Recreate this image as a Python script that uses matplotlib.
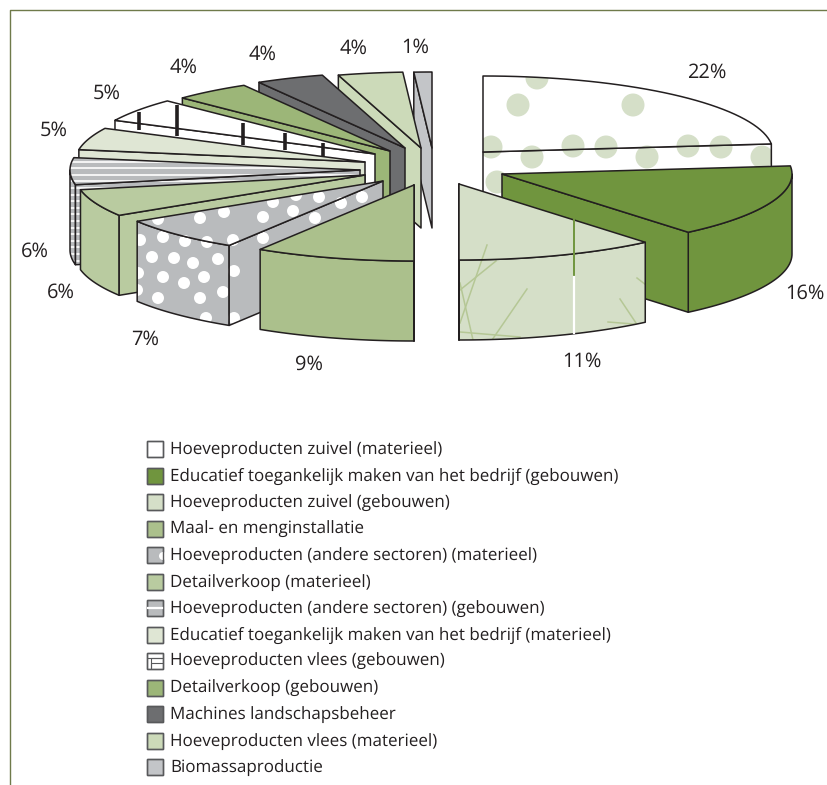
import numpy as np
import matplotlib
matplotlib.use("Agg")
import matplotlib.pyplot as plt
from matplotlib.patches import Polygon, Rectangle, Circle

plt.rcParams["font.family"] = ["Open Sans", "DejaVu Sans"]
plt.rcParams["text.hinting"] = "no_hinting"
plt.rcParams["text.hinting_factor"] = 1

names = [
    "Hoeveproducten zuivel (materieel)",
    "Educatief toegankelijk maken van het bedrijf (gebouwen)",
    "Hoeveproducten zuivel (gebouwen)",
    "Maal- en menginstallatie",
    "Hoeveproducten (andere sectoren) (materieel)",
    "Detailverkoop (materieel)",
    "Hoeveproducten (andere sectoren) (gebouwen)",
    "Educatief toegankelijk maken van het bedrijf (materieel)",
    "Hoeveproducten vlees (gebouwen)",
    "Detailverkoop (gebouwen)",
    "Machines landschapsbeheer",
    "Hoeveproducten vlees (materieel)",
    "Biomassaproductie",
]
# printed labels, and the slice sizes
labels = ["22%", "16%", "11%", "9%", "7%", "6%", "6%", "5%", "5%", "4%", "4%", "4%", "1%"]
shares = [23.3, 15.6, 11.1, 8.9, 7.2, 5.8, 5.7, 4.7, 5.0, 4.3, 3.8, 3.6, 1.0]

colors = ["#ffffff", "#70953e", "#d5dfc8", "#abc08c", "#b9bbbd", "#b9cba0", "#b9bbbd",
          "#dfe6d4", "#ffffff", "#9cb678", "#6d6e70", "#ccdab9", "#c3c5c8"]

# where each exploded slice has its tip, in pixels
tips = [(483, 152), (502, 174), (459, 184), (414, 185), (383, 181), (365, 175), (360, 170),
        (365, 162), (375, 154), (390, 151), (405, 148), (421, 148), (432, 148)]
label_pos = [(707, 72), (805, 293), (582, 361), (309, 364), (145, 339), (61, 292), (35, 251),
             (54, 130), (107, 93), (184, 67), (263, 54), (354, 48), (415, 47)]

RX, RY, DEPTH = 290, 76, 80
EDGE = "#231f20"

# fill patterns
green_dots = [(518, 105), (537, 78), (491, 147), (532, 157), (573, 146), (497, 182)]
white_dots = [(140, 240), (163, 237), (185, 241), (207, 242), (152, 257), (174, 258), (193, 263),
              (218, 259), (138, 273), (163, 277), (184, 283), (204, 277), (137, 290), (158, 298),
              (200, 298), (223, 292), (234, 271), (263, 238), (233, 240), (200, 218), (224, 212),
              (263, 217), (293, 211), (315, 218), (319, 197), (341, 203), (362, 197), (273, 202),
              (296, 195), (158, 219), (206, 318), (234, 318)]
straws = [(487, 245, 460, 323), (496, 261, 460, 290), (460, 283, 473, 340), (527, 289, 492, 340),
          (460, 332, 520, 337), (620, 299, 636, 323), (608, 322, 646, 325), (637, 278, 646, 285)]
bars = [(139, 112, 130), (177, 105, 136), (243, 123, 145), (285, 133, 150), (323, 143, 157)]


def rim(tip, a0, a1, drop=0):
    t = np.radians(np.linspace(a0, a1, 40))
    return np.column_stack([tip[0] + RX * np.sin(t), tip[1] + drop - RY * np.cos(t)])


def pattern(ax, i, clip):
    art = []
    if i == 0:
        for k in range(-1, 4):
            art += [Circle((x + 115 * k, y), 11.5, fc="#d5dfc8", ec="none") for x, y in green_dots]
    elif i == 2:
        art += ax.plot(np.array(straws)[:, [0, 2]].T, np.array(straws)[:, [1, 3]].T,
                       color="#b5c795", lw=1.1)
    elif i == 4:
        art += [Circle(p, 6, fc="white", ec="none") for p in white_dots]
    elif i == 6:
        for y in np.arange(155, 270, 6.6):
            art += ax.plot([60, 380], [y, y], color="white", lw=1.2)
    for a in art:
        if isinstance(a, Circle):
            ax.add_patch(a)
        a.set_clip_path(clip)
        a.set_zorder(ax.zorder_now + 0.1)


def face(ax, pts, col, i):
    ax.zorder_now += 1
    body = Polygon(pts, closed=True, fc=col, ec="none", zorder=ax.zorder_now)
    ax.add_patch(body)
    pattern(ax, i, body)
    ax.add_patch(Polygon(pts, closed=True, fc="none", ec=EDGE, lw=1.1, joinstyle="round",
                         zorder=ax.zorder_now + 0.2))


def draw_slice(ax, i, a0, a1):
    tip, col = tips[i], colors[i]
    # outer wall, only for the part of the rim that faces us
    w0, w1 = max(a0, 90), min(a1, 270)
    if w1 > w0:
        face(ax, np.vstack([rim(tip, w0, w1), rim(tip, w0, w1, DEPTH)[::-1]]), col, i)
    # cut face: trailing edge on the right half, leading edge on the left half
    a = a1 if a1 <= 180 else a0
    p = rim(tip, a, a)[0]
    face(ax, [tip, p, (p[0], p[1] + DEPTH), (tip[0], tip[1] + DEPTH)], col, i)
    # top
    face(ax, np.vstack([[tip], rim(tip, a0, a1)]), col, i)
    if i == 8:
        for x, y0, y1 in bars:
            ax.plot([x, x], [y0, y1], color=EDGE, lw=2.6, solid_capstyle="butt",
                    zorder=ax.zorder_now + 0.3)


fig = plt.figure(figsize=(8.28, 7.85), dpi=100)
ax = fig.add_axes([0, 0, 1, 1])
ax.set_xlim(0, 828)
ax.set_ylim(785, 0)
ax.axis("off")
ax.zorder_now = 1

# page frame
ax.plot([10, 10, 828], [785, 10, 10], color="#6f7a4a", lw=1.0)

edges = np.cumsum([0] + shares) / sum(shares) * 360
for i in [0, 1, 2] + list(range(12, 2, -1)):
    draw_slice(ax, i, edges[i], edges[i + 1])

# stray line through the 11% slice
ax.plot([574, 574], [220, 277], color="#70953e", lw=1.4, zorder=ax.zorder_now + 1)
ax.plot([574, 574], [277, 333], color="white", lw=1.6, zorder=ax.zorder_now + 1)

for s, (x, y) in zip(labels, label_pos):
    ax.text(x, y + 1, s, ha="center", va="center", fontsize=14.5, color=EDGE)

# legend
y0, step = 449, 26.5
for i, name in enumerate(names):
    y = y0 + i * step
    ax.add_patch(Rectangle((147, y - 8), 16, 16, fc=colors[i], ec="#58595b", lw=1.0))
    if i == 4:
        ax.add_patch(Circle((163, y + 1), 4, fc="white", ec="none"))
    if i == 6:
        ax.plot([148, 162], [y, y], color="white", lw=1.6)
    if i == 8:
        ax.plot([148, 162, 151, 151, 151, 162], [y - 3, y - 3, y - 3, y + 7, y + 2, y + 2],
                color="#58595b", lw=0.8)
    ax.add_patch(Rectangle((147, y - 8), 16, 16, fc="none", ec="#58595b", lw=1.0))
    ax.text(170, y + 1, name, ha="left", va="center", fontsize=12, color=EDGE)

fig.savefig("out.png", dpi=100)
